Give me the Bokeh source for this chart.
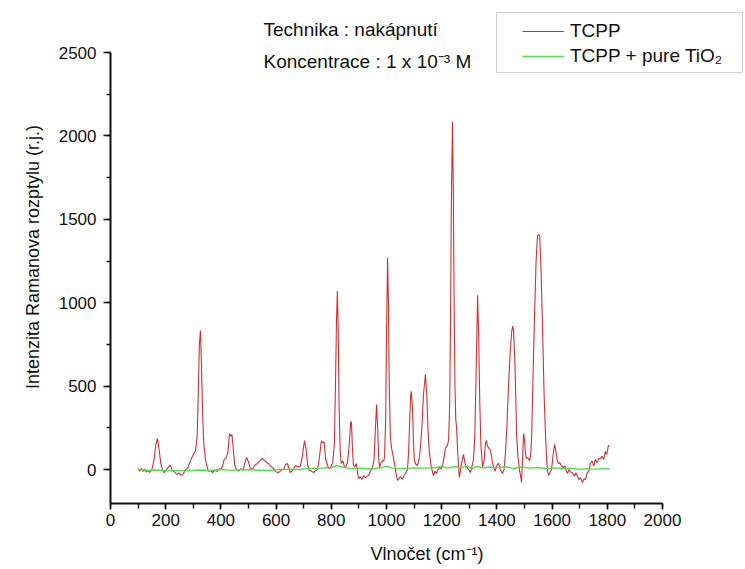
from bokeh.plotting import figure
from bokeh.models import (Range1d, SingleIntervalTicker, Label, BoxAnnotation,
                          Legend, LegendItem)
from bokeh.embed import file_html
from bokeh.resources import INLINE

# ---------------- data ----------------
tcpp_x = [100, 106, 112, 118, 124, 130, 136, 142, 150, 158, 164, 170, 176, 182, 188, 194, 200, 208, 217, 224,
          232, 240, 248, 256, 264, 272, 280, 290, 300, 308, 314, 318, 322, 326, 330, 334, 338, 344, 348, 354,
          362, 370, 378, 386, 394, 400, 406, 412, 420, 426, 431, 436, 440, 445, 450, 456, 464, 472, 480, 487,
          493, 499, 506, 514, 522, 532, 540, 550, 556, 564, 572, 580, 591, 600, 609, 618, 627, 634, 641, 646,
          652, 660, 670, 680, 688, 695, 703, 709, 714, 720, 728, 736, 744, 750, 756, 764, 770, 774, 780, 786,
          792, 797, 805, 811, 815, 819, 822, 825, 828, 832, 836, 842, 848, 851, 856, 859, 865, 870, 873, 876,
          880, 885, 891, 895, 899, 905, 911, 917, 924, 930, 935, 942, 949, 955, 960, 964, 968, 972, 975, 980,
          985, 990, 993, 997, 1000, 1004, 1007, 1010, 1014, 1018, 1024, 1029, 1034, 1040, 1045, 1051, 1057, 1063, 1069, 1076,
          1080, 1084, 1088, 1090, 1094, 1098, 1101, 1107, 1112, 1118, 1123, 1128, 1134, 1141, 1146, 1150, 1155, 1160, 1163, 1170,
          1176, 1181, 1186, 1192, 1198, 1203, 1208, 1214, 1220, 1225, 1229, 1232, 1235, 1239, 1242, 1245, 1248, 1251, 1254, 1258,
          1264, 1270, 1275, 1279, 1284, 1288, 1293, 1298, 1304, 1310, 1315, 1320, 1325, 1330, 1334, 1338, 1342, 1348, 1354, 1358,
          1362, 1366, 1370, 1377, 1382, 1388, 1394, 1398, 1402, 1406, 1412, 1420, 1426, 1431, 1436, 1442, 1448, 1454, 1457, 1460,
          1465, 1469, 1471, 1476, 1482, 1486, 1489, 1492, 1495, 1497, 1500, 1503, 1507, 1512, 1518, 1522, 1526, 1530, 1536, 1542,
          1547, 1551, 1555, 1560, 1566, 1571, 1576, 1580, 1584, 1587, 1592, 1598, 1603, 1609, 1613, 1618, 1623, 1628, 1634, 1641,
          1647, 1652, 1656, 1661, 1667, 1674, 1680, 1686, 1691, 1697, 1703, 1710, 1716, 1721, 1727, 1733, 1739, 1745, 1751, 1757,
          1763, 1769, 1775, 1781, 1787, 1793, 1798, 1804, 1808]
tcpp_y = [5, -10, 8, -12, 2, -15, -5, -18, 0, 60, 150, 186, 120, 40, 0, -20, -5, 10, 24, -5,
          -15, -30, -20, -35, -25, 0, 10, 54, 90, 110, 200, 450, 750, 833, 600, 320, 156, 60, 30, -10,
          -6, -18, -5, -12, 5, 0, 20, 60, 70, 110, 215, 200, 210, 120, 30, 0, -10, 5, -5, 40,
          72, 50, 10, 0, 25, 36, 50, 66, 58, 45, 36, 20, 6, -15, -18, -5, 0, 30, 36, 10,
          -18, -5, 24, 15, 20, 80, 174, 120, 30, -5, -10, -18, -5, 0, 60, 172, 160, 165, 60, 24,
          5, 12, 40, 150, 500, 900, 1070, 850, 400, 120, 36, 50, 15, 12, 30, 45, 150, 280, 288, 150,
          24, 15, 36, -20, -54, -45, -60, -36, -50, -40, -36, -10, 12, 60, 250, 390, 250, 60, 12, 40,
          54, 50, 80, 300, 800, 1270, 1000, 500, 200, 132, 80, 36, -20, -66, -55, -42, -60, -35, -24, 0,
          100, 300, 450, 468, 380, 150, 54, 30, 24, 60, 132, 250, 450, 570, 450, 250, 110, 40, 12, -36,
          -10, -25, 0, 10, 5, 18, 70, 132, 140, 174, 400, 900, 1600, 2085, 1700, 1000, 500, 300, 252, 100,
          -48, 20, 60, 90, 40, 20, 10, 0, -18, 20, 60, 200, 600, 1045, 800, 400, 150, 12, 60, 150,
          174, 140, 130, 114, 60, 10, -10, 20, 30, 36, 0, -24, 0, 100, 250, 500, 700, 830, 860, 840,
          650, 400, 216, 80, -6, -40, -78, 20, 150, 216, 180, 100, 66, 70, 54, 80, 200, 500, 900, 1250,
          1400, 1410, 1400, 1200, 800, 450, 216, 60, -10, -36, -20, 0, 80, 150, 120, 60, 36, 40, 20, 12,
          20, -10, -24, 0, -15, -20, -40, -20, -36, -60, -50, -78, -55, -60, -20, -10, 36, 50, 20, 60,
          40, 66, 66, 80, 60, 108, 90, 144, 140]

tio2_x = [100, 130, 160, 200, 240, 280, 320, 360, 400, 440, 480, 520, 560, 600, 640, 680, 720, 760, 800, 820,
          840, 870, 900, 940, 980, 1000, 1020, 1060, 1100, 1140, 1180, 1200, 1220, 1250, 1270, 1290, 1310, 1330, 1350, 1370,
          1400, 1430, 1460, 1490, 1520, 1550, 1580, 1610, 1640, 1670, 1700, 1730, 1760, 1790, 1808]
tio2_y = [0, -5, -3, -8, -5, -8, -3, -6, 0, -5, 0, -3, -6, -2, 2, 0, 5, 8, 12, 25,
          15, 5, 8, 3, 10, 20, 8, 5, 10, 8, 12, 20, 8, 18, 10, 22, 5, 20, 8, 15,
          10, 18, 5, 15, 8, 12, 5, 10, 5, 8, 0, 5, 2, 5, 3]

series_names = ["TCPP", "TCPP + pure TiO\u2082"]
series_colors = ["#cc3333", "#4fdc4f"]
annotation_lines = ["Technika : nakápnutí", "Koncentrace : 1 x 10\u207b\u00b3 M"]
x_label = "Vlnočet (cm\u207b\u00b9)"
y_label = "Intenzita Ramanova rozptylu (r.j.)"

# ---------------- layout (page pixel positions) ----------------
FONT = "Liberation Sans"
W, H = 745, 569
FRAME_L, FRAME_R, FRAME_T, FRAME_B = 110, 743, 10, 503
X0_PX, X_PER = 110, 0.276      # page px of x=0, px per unit
Y0_PX, Y_PER = 469, 0.1668     # page px of y=0, px per unit


def dx(px):
    return (px - X0_PX) / X_PER


def dy(py):
    return (Y0_PX - py) / Y_PER


p = figure(width=W, height=H, output_backend="svg", toolbar_location=None,
           x_range=Range1d(0, dx(FRAME_R)), y_range=Range1d(dy(FRAME_B), dy(FRAME_T)),
           min_border_left=FRAME_L, min_border_right=W - FRAME_R,
           min_border_top=FRAME_T, min_border_bottom=H - FRAME_B)
p.outline_line_color = None
p.grid.visible = False
p.background_fill_color = "white"
p.border_fill_color = "white"

r1 = p.line(tcpp_x, tcpp_y, line_color=series_colors[0], line_width=1.1)
r2 = p.line(tio2_x, tio2_y, line_color=series_colors[1], line_width=1.4)

xa, ya = p.xaxis[0], p.yaxis[0]
xa.ticker = SingleIntervalTicker(interval=200, num_minor_ticks=2)
ya.ticker = SingleIntervalTicker(interval=500, num_minor_ticks=2)
xa.bounds = (0, 2000)
ya.bounds = (dy(FRAME_B), 2500)
for ax in (xa, ya):
    ax.axis_line_width = 2
    ax.axis_line_color = "#111111"
    ax.major_tick_line_color = "#111111"
    ax.minor_tick_line_color = "#111111"
    ax.major_tick_line_width = 1.5
    ax.minor_tick_line_width = 1.5
    ax.major_tick_in = 0
    ax.minor_tick_in = 0
    ax.major_label_text_font = FONT
    ax.major_label_text_font_size = "17px"
    ax.major_label_text_color = "#111111"
    ax.axis_label_text_font = FONT
    ax.axis_label_text_font_style = "normal"
    ax.axis_label_text_font_size = "18px"
    ax.axis_label_text_color = "#111111"
xa.major_tick_out = 6
xa.minor_tick_out = 5
xa.major_label_standoff = 4
xa.axis_label = x_label
xa.axis_label_standoff = 15
ya.major_tick_out = 7
ya.minor_tick_out = 4
ya.major_label_standoff = 7
ya.axis_label = y_label
ya.axis_label_standoff = 13

# annotation text
for i, t in enumerate(annotation_lines):
    p.add_layout(Label(x=dx(263), y=dy(29 + 32 * i), text=t, text_font=FONT,
                       text_font_size="19px", text_baseline="middle", text_color="#111111"))

# legend frame
p.add_layout(BoxAnnotation(left=dx(496), right=dx(742), top=dy(12), bottom=dy(72),
                           fill_color=None, line_color="#666666", line_width=1))
legend = Legend(items=[LegendItem(label=series_names[0], renderers=[r1]),
                       LegendItem(label=series_names[1], renderers=[r2])],
                location=(522 - FRAME_L, FRAME_B - 67), padding=7, spacing=3, margin=0,
                glyph_width=42, glyph_height=22, label_height=22, label_standoff=6,
                label_text_font=FONT, label_text_font_size="19px", label_text_color="#111111",
                border_line_color=None, background_fill_alpha=0)
p.add_layout(legend)

open("out.html", "w").write(file_html(p, INLINE))
